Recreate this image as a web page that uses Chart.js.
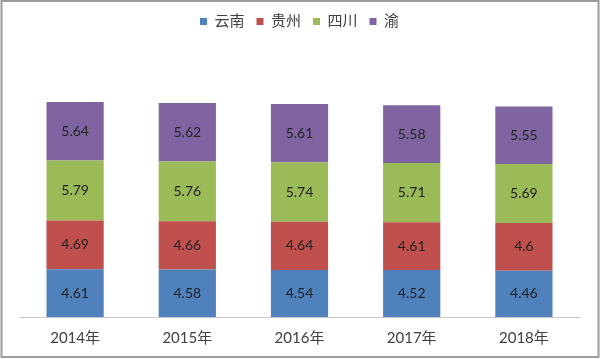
<!DOCTYPE html>
<html>
<head>
<meta charset="utf-8">
<script src="https://cdn.jsdelivr.net/npm/chart.js@4.4.1/dist/chart.umd.min.js"></script>
<style>
html,body{margin:0;padding:0;background:#fff;}
#wrap{position:relative;width:600px;height:359px;}
</style>
</head>
<body>
<div id="wrap"><canvas id="c" width="600" height="359"></canvas></div>
<script>
const categories = ['2014年', '2015年', '2016年', '2017年', '2018年'];
const seriesNames = ['云南', '贵州', '四川', '渝'];
const yunnan  = [4.61, 4.58, 4.54, 4.52, 4.46];
const guizhou = [4.69, 4.66, 4.64, 4.61, 4.6];
const sichuan = [5.79, 5.76, 5.74, 5.71, 5.69];
const yu      = [5.64, 5.62, 5.61, 5.58, 5.55];
const colors = ['#4F81BD', '#C0504D', '#9BBB59', '#8064A2'];

const FONT = "Lato, 'Noto Sans CJK SC', sans-serif";

const frame = {
  id: 'frame',
  afterDraw(chart) {
    const ctx = chart.ctx;
    ctx.save();
    ctx.strokeStyle = '#9c9c9c';
    ctx.lineWidth = 2;
    ctx.strokeRect(1.5, 1, 597, 356);
    ctx.restore();
  }
};

const valueLabels = {
  id: 'valueLabels',
  afterDatasetsDraw(chart) {
    const ctx = chart.ctx;
    ctx.save();
    ctx.font = "14px " + FONT;
    ctx.fillStyle = '#222222';
    ctx.textAlign = 'center';
    ctx.textBaseline = 'middle';
    chart.data.datasets.forEach((ds, i) => {
      const meta = chart.getDatasetMeta(i);
      meta.data.forEach((bar, j) => {
        const p = bar.getProps(['x', 'y', 'base'], true);
        ctx.fillText(String(ds.data[j]), p.x, (p.y + p.base) / 2);
      });
    });
    ctx.restore();
  }
};

const data = {
  labels: categories,
  datasets: [yunnan, guizhou, sichuan, yu].map((d, i) => ({
    label: seriesNames[i],
    data: d,
    backgroundColor: colors[i],
    borderWidth: 0,
    categoryPercentage: 1,
    barPercentage: 0.51
  }))
};

new Chart(document.getElementById('c'), {
  type: 'bar',
  data,
  options: {
    responsive: false,
    animation: false,
    devicePixelRatio: 1,
    layout: { padding: { left: 19, right: 20, top: 2, bottom: 0 } },
    plugins: {
      legend: {
        position: 'top',
        labels: {
          font: { size: 15, family: FONT },
          color: '#404040',
          boxWidth: 7,
          boxHeight: 7,
          padding: 12
        }
      },
      tooltip: { enabled: false }
    },
    scales: {
      x: {
        stacked: true,
        grid: { display: false, drawTicks: false },
        border: { display: true, color: '#c8c8c8', width: 1 },
        ticks: { font: { size: 15, family: FONT }, color: '#404040', padding: 12 }
      },
      y: {
        stacked: true,
        display: false,
        min: 0,
        max: 26.8
      }
    }
  },
  plugins: [frame, valueLabels]
});
</script>
</body>
</html>
